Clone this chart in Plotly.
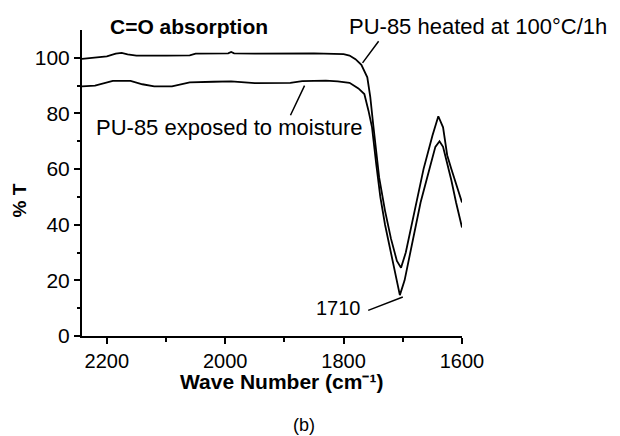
import plotly.graph_objects as go

# Wavenumber (cm-1) and %T for the two spectra
wn_heated = [2242, 2225, 2200, 2185, 2175, 2165, 2150, 2100, 2060, 2050, 1995, 1990, 1985,
             1950, 1900, 1850, 1800, 1790, 1780, 1770, 1760, 1755, 1750, 1745, 1740, 1730,
             1720, 1710, 1703, 1695, 1680, 1665, 1650, 1640, 1632, 1625, 1618, 1610, 1600]
t_heated = [99.6, 100.0, 100.5, 101.5, 101.8, 101.2, 100.8, 100.8, 100.9, 101.5, 101.6, 102.1, 101.6,
            101.5, 101.5, 101.6, 101.3, 100.8, 99.5, 97.5, 93.0, 86.0, 76.0, 66.0, 57.0, 45.0,
            35.0, 27.0, 24.5, 30.0, 45.0, 60.0, 72.0, 79.0, 75.0, 65.0, 60.0, 55.0, 48.0]

wn_moist = [2242, 2220, 2190, 2160, 2140, 2120, 2090, 2060, 2020, 1990, 1950, 1890, 1870,
            1830, 1810, 1790, 1775, 1765, 1758, 1752, 1745, 1738, 1730, 1720, 1712, 1705,
            1697, 1685, 1670, 1655, 1645, 1638, 1632, 1625, 1618, 1610, 1600]
t_moist = [89.7, 90.0, 91.7, 91.7, 90.5, 89.7, 89.7, 91.2, 91.4, 91.5, 90.9, 91.0, 91.6,
           91.8, 91.5, 91.0, 89.0, 87.0, 81.0, 75.0, 62.0, 50.0, 40.0, 30.0, 22.0, 14.7,
           20.0, 33.0, 48.0, 60.0, 68.0, 70.0, 68.0, 62.0, 56.0, 48.0, 39.0]

x_ticks = [2200, 2000, 1800, 1600]
y_ticks = [0, 20, 40, 60, 80, 100]

FONT = "Arial, Liberation Sans, sans-serif"

fig = go.Figure()
fig.add_trace(go.Scatter(x=wn_heated, y=t_heated, mode="lines",
                         line=dict(color="black", width=1.8), showlegend=False))
fig.add_trace(go.Scatter(x=wn_moist, y=t_moist, mode="lines",
                         line=dict(color="black", width=1.8), showlegend=False))

# pointer lines
pointers = [
    (1768, 98.2, 1739, 106.5),
    (1866, 90.0, 1891, 78.8),
    (1700, 14.0, 1761, 9.0),
]
for x0, y0, x1, y1 in pointers:
    fig.add_annotation(x=x0, y=y0, ax=x1, ay=y1, xref="x", yref="y", axref="x", ayref="y",
                       text="", showarrow=True, arrowhead=0, arrowwidth=1.5, arrowcolor="black")

texts = [
    ("C=O absorption", 0.2816, 1.013, 21, True),
    ("PU-85 heated at 100°C/1h", 1.042, 1.010, 22, False),
    ("PU-85 exposed to moisture", 0.388, 0.683, 22, False),
    ("1710", 0.674, 0.0915, 20, False),
]
for t, x, y, s, b in texts:
    fig.add_annotation(x=x, y=y, xref="paper", yref="paper", text=("<b>%s</b>" % t) if b else t,
                       showarrow=False, font=dict(family=FONT, size=s, color="black"),
                       xanchor="center", yanchor="middle")

fig.add_annotation(x=-0.165, y=0.444, xref="paper", yref="paper", text="<b>% T</b>",
                   textangle=-90, showarrow=False, font=dict(family=FONT, size=19, color="black"),
                   xanchor="center", yanchor="middle")
fig.add_annotation(x=0.526, y=-0.148, xref="paper", yref="paper",
                   text="<b>Wave Number (cm⁻¹)</b>", showarrow=False,
                   font=dict(family=FONT, size=21, color="black"),
                   xanchor="center", yanchor="middle")
fig.add_annotation(x=0.584, y=-0.29, xref="paper", yref="paper", text="(b)",
                   showarrow=False, font=dict(family=FONT, size=18, color="black"),
                   xanchor="center", yanchor="middle")

fig.update_layout(
    width=620, height=436,
    margin=dict(l=82, r=158, t=30, b=100),
    paper_bgcolor="white", plot_bgcolor="white",
    font=dict(family=FONT, color="black"),
    xaxis=dict(range=[2242, 1600], tickvals=x_ticks, ticks="outside", ticklen=6, tickwidth=2,
               tickcolor="black", showline=True, linecolor="black", linewidth=2,
               showgrid=False, zeroline=False, tickfont=dict(family=FONT, size=20),
               minor=dict(tickvals=[2100, 1900, 1700], ticks="outside", ticklen=4, tickwidth=2,
                          tickcolor="black", showgrid=False)),
    yaxis=dict(range=[0, 110], tickvals=y_ticks, ticks="outside", ticklen=6, tickwidth=2,
               tickcolor="black", showline=True, linecolor="black", linewidth=2,
               showgrid=False, zeroline=False, tickfont=dict(family=FONT, size=21),
               minor=dict(tickvals=[10, 30, 50, 70, 90], ticks="outside", ticklen=3, tickwidth=2,
                          tickcolor="black", showgrid=False)),
)

fig.write_html("out.html")
